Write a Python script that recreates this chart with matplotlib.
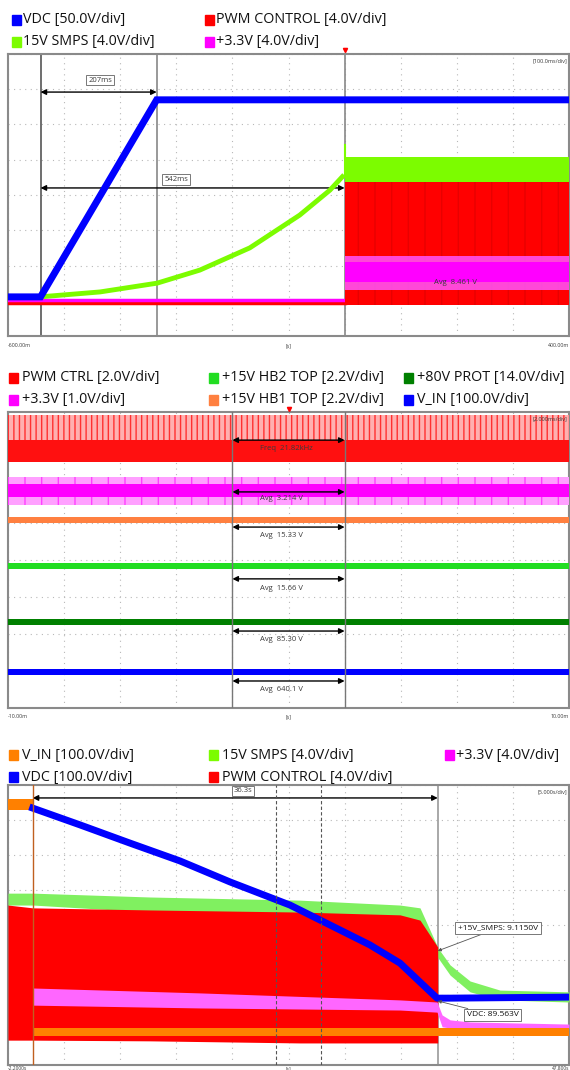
import numpy as np
import matplotlib
matplotlib.use("Agg")
import matplotlib.pyplot as plt
from matplotlib.patches import Rectangle

plt.rcParams['font.family'] = ['Open Sans', 'DejaVu Sans']

# ---------------- panel 1 data (x: s, y: div) ----------------
p1_vdc_x = [-0.6, -0.542, -0.335, 0.4]
p1_vdc_y = [1.11, 1.11, 6.70, 6.70]
p1_smps_x = [-0.600, -0.543, -0.436, -0.334, -0.258, -0.169, -0.080, -0.026, -0.001]
p1_smps_y = [1.11, 1.11, 1.25, 1.50, 1.87, 2.50, 3.43, 4.14, 4.57]
p1_smps_spike = 5.42
p1_smps_on = [4.14, 5.08]      # band after trigger
p1_pwm_off = 0.94
p1_pwm_on = [0.88, 4.37]
p1_33_off = 1.02
p1_33_on = [1.30, 2.27]
p1_33_core = [1.53, 2.10]
p1_cursors = [-0.542, -0.335, 0.0]

# ---------------- panel 2 data (x: ms, y: div) ----------------
p2_pwm_spikes = [7.24, 7.92]
p2_pwm_base = [6.65, 7.24]
p2_33_outer = [5.49, 6.24]
p2_33_core = [5.70, 6.05]
p2_hb1 = [5.00, 5.16]
p2_hb2 = [3.76, 3.92]
p2_prot = [2.24, 2.41]
p2_vin = [0.89, 1.05]
p2_cursors = [-2.0, 2.0]
p2_labels = ["Freq  21.82kHz", "Avg  3.214 V", "Avg  15.33 V", "Avg  15.66 V", "Avg  85.30 V", "Avg  640.1 V"]
p2_arrow_y = [7.24, 5.84, 4.89, 3.49, 2.08, 0.73]
p2_text_y = [7.02, 5.66, 4.65, 3.24, 1.84, 0.49]

# ---------------- panel 3 data (x: s, y: div) ----------------
p3_vdc_x = [0.0, 4.22, 8.67, 13.13, 17.59, 22.93, 26.50, 30.06, 32.74, 34.52, 36.04, 37.20, 47.8]
p3_vdc_y = [7.34, 6.86, 6.34, 5.83, 5.23, 4.57, 4.00, 3.43, 2.91, 2.37, 1.91, 1.91, 1.94]
p3_smps_x = [-2.2, 0.03, 10.46, 23.83, 32.74, 34.52, 36.13, 37.20, 38.98, 41.65, 47.8]
p3_smps_hi = [4.91, 4.91, 4.80, 4.71, 4.57, 4.49, 3.34, 2.86, 2.40, 2.14, 2.09]
p3_smps_lo = [4.57, 4.57, 4.37, 4.29, 4.20, 4.11, 3.06, 2.57, 2.09, 1.86, 1.80]
p3_pwm_x = [-2.2, 0.0, 10.46, 23.83, 32.74, 34.52, 36.1]
p3_pwm_hi = [4.57, 4.49, 4.43, 4.37, 4.29, 4.14, 3.37]
p3_pwm_lo = [0.71, 0.71, 0.69, 0.63, 0.63, 0.63, 0.63]
p3_33_x = [0.03, 14.91, 32.74, 36.04, 36.49, 37.20, 38.98, 47.8]
p3_33_hi = [2.20, 2.06, 1.86, 1.80, 1.43, 1.29, 1.23, 1.17]
p3_33_lo = [1.71, 1.63, 1.57, 1.51, 1.09, 1.06, 1.06, 1.06]
p3_vin_pre = [7.29, 7.60]
p3_vin_post = [0.83, 1.06]
p3_cursors = [0.0, 36.1]
p3_dashed = [21.73, 25.67]

GRID = '#b8b8b8'
TXT = '#3a3a3a'

fig = plt.figure(figsize=(5.7, 10.7), dpi=100)


def scope_axes(rect, xlim, ylim=(0, 8)):
    ax = fig.add_axes(rect)
    ax.set_xlim(*xlim)
    ax.set_ylim(*ylim)
    ax.set_xticks(np.linspace(xlim[0], xlim[1], 11))
    ax.set_yticks(np.arange(0, 9))
    ax.tick_params(length=0, labelbottom=False, labelleft=False)
    ax.grid(True, linestyle=(0, (1, 4)), color=GRID, lw=0.8)
    for s in ax.spines.values():
        s.set_color('#8a8a8a')
        s.set_linewidth(1.5)
    return ax


def legend_item(x, y, color, label, gap=13):
    fig.patches.append(Rectangle((x / 570, 1 - (y + 5) / 1070), 9 / 570, 10 / 1070,
                                 transform=fig.transFigure, color=color))
    fig.text((x + gap) / 570, 1 - y / 1070, label, fontsize=10.3, va='center', ha='left', color='#111111')


def darrow(ax, x0, x1, y):
    ax.annotate('', xy=(x0, y), xytext=(x1, y),
                arrowprops=dict(arrowstyle='<|-|>', color='black', lw=1.0, mutation_scale=8, shrinkA=0, shrinkB=0))


def small(ax, x, y, s, **kw):
    ax.text(x, y, s, fontsize=4, color=TXT, transform=ax.transAxes, **kw)


def trig_mark(ax, x, y):
    ax.plot([x], [y], marker='v', ms=3, color='red', clip_on=False, zorder=9)

# ================= panel 1 =================
legend_item(12, 20, '#0000ff', 'VDC [50.0V/div]', gap=11)
legend_item(205, 20, '#ff0000', 'PWM CONTROL [4.0V/div]', gap=11)
legend_item(12, 42, '#7cfc00', '15V SMPS [4.0V/div]', gap=11)
legend_item(205, 42, '#ff00ff', '+3.3V [4.0V/div]', gap=11)

ax1 = scope_axes([8 / 570, 1 - 336 / 1070, 561 / 570, 282 / 1070], (-0.6, 0.4))
for c, col in zip(p1_cursors, ['#555555', '#888888', '#888888']):
    ax1.axvline(c, color=col, lw=1.2, zorder=2)
ax1.plot([-0.6, 0.0], [p1_pwm_off] * 2, color='#ff0000', lw=2.5, zorder=3)
ax1.plot([-0.6, 0.0], [p1_33_off] * 2, color='#ff00ff', lw=2.5, zorder=4)
ax1.plot(p1_smps_x, p1_smps_y, color='#7cfc00', lw=3.5, zorder=5, solid_capstyle='butt')
ax1.plot([0.0, 0.0], [p1_smps_y[-1], p1_smps_spike], color='#7cfc00', lw=1.5, zorder=5)
ax1.fill_between([0.0, 0.4], *p1_smps_on, color='#7cfc00', lw=0, zorder=3)
ax1.fill_between([0.0, 0.4], *p1_pwm_on, facecolor='#ff0000', edgecolor='#e80000', hatch='|', lw=0, zorder=4)
ax1.fill_between([0.0, 0.4], *p1_33_on, color='#ff55ff', lw=0, zorder=5, alpha=0.85)
ax1.fill_between([0.0, 0.4], *p1_33_core, color='#ff00ff', lw=0, zorder=5)
ax1.plot(p1_vdc_x, p1_vdc_y, color='#0000ff', lw=5, zorder=6, solid_joinstyle='miter')

darrow(ax1, -0.542, -0.335, 6.92)
ax1.text(-0.436, 7.26, '207ms', fontsize=5.5, ha='center', va='center', color=TXT,
         bbox=dict(boxstyle='square,pad=0.25', fc='white', ec='#777777', lw=0.7), zorder=8)
darrow(ax1, -0.542, 0.0, 4.20)
ax1.text(-0.30, 4.43, '542ms', fontsize=5.5, ha='center', va='center', color=TXT,
         bbox=dict(boxstyle='square,pad=0.25', fc='white', ec='#777777', lw=0.7), zorder=8)
darrow(ax1, 0.099, 0.298, 1.84)
ax1.text(0.197, 1.53, 'Avg  8.461 V', fontsize=5.5, ha='center', va='center', color=TXT, zorder=8)
trig_mark(ax1, 0.0, 8.12)
small(ax1, 0.997, 0.985, '[100.0ms/div]', ha='right', va='top')
ax1.text(0.0, -0.025, '-600.00m', fontsize=3.8, color=TXT, transform=ax1.transAxes, ha='left', va='top')
ax1.text(1.0, -0.025, '400.00m', fontsize=3.8, color=TXT, transform=ax1.transAxes, ha='right', va='top')
ax1.text(0.5, -0.025, '[s]', fontsize=3.8, color=TXT, transform=ax1.transAxes, ha='center', va='top')

# ================= panel 2 =================
legend_item(9, 378, '#ff0000', 'PWM CTRL [2.0V/div]')
legend_item(209, 378, '#22dd22', '+15V HB2 TOP [2.2V/div]')
legend_item(404, 378, '#008000', '+80V PROT [14.0V/div]')
legend_item(9, 400, '#ff00ff', '+3.3V [1.0V/div]')
legend_item(209, 400, '#ff8040', '+15V HB1 TOP [2.2V/div]')
legend_item(404, 400, '#0000ff', 'V_IN [100.0V/div]')

ax2 = scope_axes([8 / 570, 1 - 708 / 1070, 561 / 570, 296 / 1070], (-10, 10))
for c in p2_cursors:
    ax2.axvline(c, color='#777777', lw=1.0, zorder=6)
ax2.fill_between([-10, 10], *p2_pwm_spikes, facecolor='#ffb0b0', edgecolor='#ff3030', hatch='|||', lw=0, zorder=3)
ax2.fill_between([-10, 10], *p2_pwm_base, color='#ff1010', lw=0, zorder=3)
ax2.fill_between([-10, 10], *p2_33_outer, facecolor='#ffa0ff', edgecolor='#ff40ff', hatch='|', lw=0, zorder=3)
ax2.fill_between([-10, 10], *p2_33_core, color='#ff00ff', lw=0, zorder=3)
ax2.fill_between([-10, 10], *p2_hb1, color='#ff8040', lw=0, zorder=3)
ax2.fill_between([-10, 10], *p2_hb2, color='#22dd22', lw=0, zorder=3)
ax2.fill_between([-10, 10], *p2_prot, color='#008000', lw=0, zorder=3)
ax2.fill_between([-10, 10], *p2_vin, color='#0000ff', lw=0, zorder=3)
for lab, ya, yt in zip(p2_labels, p2_arrow_y, p2_text_y):
    darrow(ax2, p2_cursors[0], p2_cursors[1], ya)
    ax2.text(-1.0, yt, lab, fontsize=5.5, ha='left', va='center', color=TXT, zorder=8)
trig_mark(ax2, 0.0, 8.08)
small(ax2, 0.997, 0.985, '[2.000ms/div]', ha='right', va='top')
ax2.text(0.0, -0.02, '-10.00m', fontsize=3.8, color=TXT, transform=ax2.transAxes, ha='left', va='top')
ax2.text(1.0, -0.02, '10.00m', fontsize=3.8, color=TXT, transform=ax2.transAxes, ha='right', va='top')
ax2.text(0.5, -0.02, '[s]', fontsize=3.8, color=TXT, transform=ax2.transAxes, ha='center', va='top')

# ================= panel 3 =================
legend_item(9, 755, '#ff8000', 'V_IN [100.0V/div]')
legend_item(209, 755, '#7cfc00', '15V SMPS [4.0V/div]')
legend_item(445, 755, '#ff00ff', '+3.3V [4.0V/div]', gap=11)
legend_item(9, 777, '#0000ff', 'VDC [100.0V/div]')
legend_item(209, 777, '#ff0000', 'PWM CONTROL [4.0V/div]')

ax3 = scope_axes([8 / 570, 1 - 1065 / 1070, 561 / 570, 280 / 1070], (-2.2, 47.8))
ax3.axvline(p3_cursors[0], color='#c06020', lw=1.0, zorder=7)
ax3.axvline(p3_cursors[1], color='#999999', lw=1.2, zorder=2)
for c in p3_dashed:
    ax3.axvline(c, color='#555555', lw=0.8, ls=(0, (3, 2)), zorder=7)
ax3.fill_between(p3_smps_x, p3_smps_lo, p3_smps_hi, color='#80f060', lw=0, zorder=3)
ax3.fill_between(p3_pwm_x, p3_pwm_lo, p3_pwm_hi, color='#ff0000', lw=0, zorder=4)
ax3.fill_between(p3_33_x, p3_33_lo, p3_33_hi, color='#ff66ff', lw=0, zorder=5)
ax3.fill_between([-2.2, 0.0], *p3_vin_pre, color='#ff8000', lw=0, zorder=5)
ax3.fill_between([0.0, 47.8], *p3_vin_post, color='#ff8000', lw=0, zorder=5)
ax3.plot(p3_vdc_x, p3_vdc_y, color='#0000ff', lw=5, zorder=6)

darrow(ax3, p3_cursors[0], p3_cursors[1], 7.63)
ax3.text(18.75, 7.83, '36.3s', fontsize=5.5, ha='center', va='center', color=TXT,
         bbox=dict(boxstyle='square,pad=0.25', fc='white', ec='#777777', lw=0.7), zorder=8)
ax3.annotate('+15V_SMPS: 9.1150V', xy=(36.1, 3.26), xytext=(37.9, 3.91), fontsize=6, color='#111111',
             ha='left', va='center',
             bbox=dict(boxstyle='square,pad=0.3', fc='white', ec='#777777', lw=0.7),
             arrowprops=dict(arrowstyle='-|>', color='#555555', lw=0.6, mutation_scale=5, shrinkA=0, shrinkB=0),
             zorder=8)
ax3.annotate('VDC: 89.563V', xy=(36.1, 1.83), xytext=(38.7, 1.43), fontsize=6, color='#111111',
             ha='left', va='center',
             bbox=dict(boxstyle='square,pad=0.3', fc='white', ec='#777777', lw=0.7),
             arrowprops=dict(arrowstyle='-|>', color='#555555', lw=0.6, mutation_scale=5, shrinkA=0, shrinkB=0),
             zorder=8)
small(ax3, 0.997, 0.985, '[5.000s/div]', ha='right', va='top')
ax3.text(0.0, -0.005, '-2.2000s', fontsize=3.5, color=TXT, transform=ax3.transAxes, ha='left', va='top')
ax3.text(1.0, -0.005, '47.800s', fontsize=3.5, color=TXT, transform=ax3.transAxes, ha='right', va='top')
ax3.text(0.5, -0.005, '[s]', fontsize=3.5, color=TXT, transform=ax3.transAxes, ha='center', va='top')

fig.savefig('out.png', dpi=100)
